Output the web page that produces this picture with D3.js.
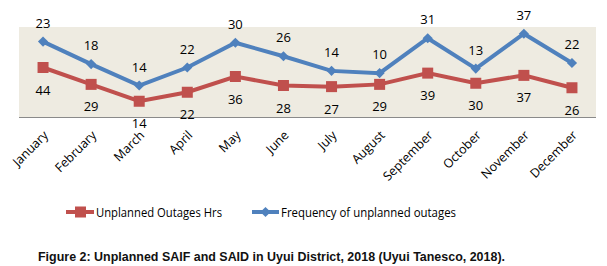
<!DOCTYPE html>
<html><head><meta charset="utf-8">
<script src="https://cdn.jsdelivr.net/npm/d3@7"></script>
<style>body{margin:0;background:#fff}svg{display:block}</style>
</head><body><svg id="c" width="607" height="266"></svg>
<script>
const months = ["January","February","March","April","May","June","July","August","September","October","November","December"];
const outageHours = [44,29,14,22,36,28,27,29,39,30,37,26];
const outageFrequency = [23,18,14,22,30,26,14,10,31,13,37,22];
const seriesNames = ["Unplanned Outages Hrs","Frequency of unplanned outages"];
const yDomainMax = 80;

const svg = d3.select("#c");
const m = {l:19, r:596, t:27, b:117};
const x = d3.scaleBand().domain(months).range([m.l, m.r]);
const y = d3.scaleLinear().domain([0, yDomainMax]).range([m.b, m.t]);
const red = "#C0504D", blue = "#4F81BD";

const rows = months.map((mo,i)=>({month:mo, h:outageHours[i], f:outageFrequency[i]}));
const stack = d3.stack().keys(["h","f"])(rows);

svg.append("rect").attr("x",m.l).attr("y",m.t).attr("width",m.r-m.l).attr("height",m.b-m.t).attr("fill","#EEEBE1");
svg.append("line").attr("x1",m.l).attr("x2",m.r).attr("y1",m.b+0.5).attr("y2",m.b+0.5).attr("stroke","#8a8a8a").attr("stroke-width",1.2);

const cx = d => x(d.data.month) + x.bandwidth()/2;
const line = d3.line().x(cx).y(d=>y(d[1]));

svg.append("path").datum(stack[0]).attr("d",line).attr("fill","none").attr("stroke",red).attr("stroke-width",4);
svg.append("path").datum(stack[1]).attr("d",line).attr("fill","none").attr("stroke",blue).attr("stroke-width",4);

svg.selectAll(".sq").data(stack[0]).join("rect").attr("x",d=>cx(d)-5.5).attr("y",d=>y(d[1])-5.5).attr("width",11).attr("height",11).attr("fill",red);
svg.selectAll(".dm").data(stack[1]).join("path").attr("transform",d=>`translate(${cx(d)},${y(d[1])}) rotate(45)`).attr("d",d3.symbol().type(d3.symbolSquare).size(52)).attr("fill",blue);

const fontLab = "Open Sans, sans-serif";
svg.selectAll(".lb").data(stack[1]).join("text").attr("x",cx).attr("y",d=>y(d[1])-14)
  .attr("text-anchor","middle").attr("font-family",fontLab).attr("font-size",13).attr("fill","#000")
  .text((d,i)=>outageFrequency[i]);
svg.selectAll(".lr").data(stack[0]).join("text").attr("x",cx).attr("y",d=>y(d[1])+27)
  .attr("text-anchor","middle").attr("font-family",fontLab).attr("font-size",13).attr("fill","#000")
  .text((d,i)=>outageHours[i]);

svg.selectAll(".xl").data(months).join("text")
  .attr("transform",d=>`translate(${x(d)+x.bandwidth()/2+6},${m.b+19}) rotate(-45)`)
  .attr("text-anchor","end").attr("font-family",fontLab).attr("font-size",12.5).attr("fill","#000")
  .text(d=>d);

const lg = svg.append("g");
const ly = 212;
lg.append("line").attr("x1",66).attr("x2",94).attr("y1",ly).attr("y2",ly).attr("stroke",red).attr("stroke-width",4);
lg.append("rect").attr("x",75).attr("y",ly-5.5).attr("width",11).attr("height",11).attr("fill",red);
lg.append("text").attr("x",96).attr("y",ly+4.5).attr("font-family",fontLab).attr("font-size",12.5)
  .attr("textLength",126).attr("lengthAdjust","spacingAndGlyphs").text(seriesNames[0]);
lg.append("line").attr("x1",252).attr("x2",279).attr("y1",ly).attr("y2",ly).attr("stroke",blue).attr("stroke-width",4);
lg.append("path").attr("transform",`translate(265.5,${ly}) rotate(45)`).attr("d",d3.symbol().type(d3.symbolSquare).size(52)).attr("fill",blue);
lg.append("text").attr("x",281).attr("y",ly+4.5).attr("font-family",fontLab).attr("font-size",12.5)
  .attr("textLength",175).attr("lengthAdjust","spacingAndGlyphs").text(seriesNames[1]);

svg.append("text").attr("x",38).attr("y",261).attr("font-family","'Liberation Sans', Arial, sans-serif")
  .attr("font-weight","bold").attr("font-size",13).attr("fill","#111")
  .attr("textLength",467).attr("lengthAdjust","spacingAndGlyphs")
  .text("Figure 2: Unplanned SAIF and SAID in Uyui District, 2018 (Uyui Tanesco, 2018).");
</script></body></html>
